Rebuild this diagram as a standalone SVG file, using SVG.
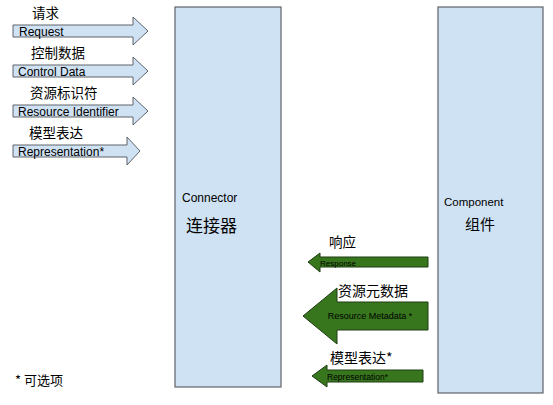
<svg xmlns="http://www.w3.org/2000/svg" width="553" height="405" viewBox="0 0 553 405">
<style>
.box{fill:#cfe2f3;stroke:#5f6368;stroke-width:1.2}
.ba{fill:#cfe2f3;stroke:#5f6368;stroke-width:1}
.ga{fill:#38761d;stroke:#1e3d12;stroke-width:1}
.en{font-family:"Liberation Sans",Arial,sans-serif;fill:#000}
.zh{font-family:"Noto Sans CJK SC","Liberation Sans",sans-serif;fill:#000}
.la{font-size:12px}
.lz{font-size:13.5px}
</style>
<rect width="553" height="405" fill="#fff"/>
<g id="connector">
<rect class="box" x="175" y="7" width="106" height="380"/>
<text class="en" x="182" y="202" font-size="12">Connector</text>
<text class="zh" x="186" y="232" font-size="17">连接器</text>
</g>
<g id="component">
<rect class="box" x="438" y="7" width="105" height="386"/>
<text class="en" x="444" y="206" font-size="11.5">Component</text>
<text class="zh" x="465" y="230" font-size="15">组件</text>
</g>
<g id="connectors">
<g id="req">
<polygon class="ba" points="13,25 133,25 133,17 148,31 133,45 133,37 13,37"/>
<text class="en la" x="19" y="36">Request</text>
<text class="zh lz" x="32" y="18">请求</text>
</g>
<g id="ctrl">
<polygon class="ba" points="13,65 133,65 133,57 148,71 133,85 133,77 13,77"/>
<text class="en la" x="18" y="76">Control Data</text>
<text class="zh lz" x="31" y="58">控制数据</text>
</g>
<g id="rid">
<polygon class="ba" points="13,105 133,105 133,97 148,111 133,125 133,117 13,117"/>
<text class="en la" x="18" y="116">Resource Identifier</text>
<text class="zh lz" x="30" y="98">资源标识符</text>
</g>
<g id="rep">
<polygon class="ba" points="13,145 127,145 127,137 140,151 127,165 127,157 13,157"/>
<text class="en la" x="18" y="156">Representation*</text>
<text class="zh lz" x="29" y="138">模型表达</text>
</g>
<g id="resp">
<polygon class="ga" points="428,257 320,257 320,253 308,262 320,272 320,267 428,267"/>
<text class="en" x="320" y="265.5" font-size="8">Response</text>
<text class="zh lz" x="329" y="247">响应</text>
</g>
<g id="meta">
<polygon class="ga" points="428,302 337,302 337,288 303,316 337,344 337,330 428,330"/>
<text class="en" x="370" y="319" font-size="9" text-anchor="middle">Resource Metadata *</text>
<text class="zh" x="338" y="296" font-size="14">资源元数据</text>
</g>
<g id="rep2">
<polygon class="ga" points="423,370 327,370 327,365 312,376 327,387 327,382 423,382"/>
<text class="en" x="327" y="379.5" font-size="8.5">Representation*</text>
<text class="zh" x="330" y="363" font-size="14">模型表达*</text>
</g>
</g>
<text class="zh" x="15" y="385" font-size="13">* 可选项</text>
</svg>
